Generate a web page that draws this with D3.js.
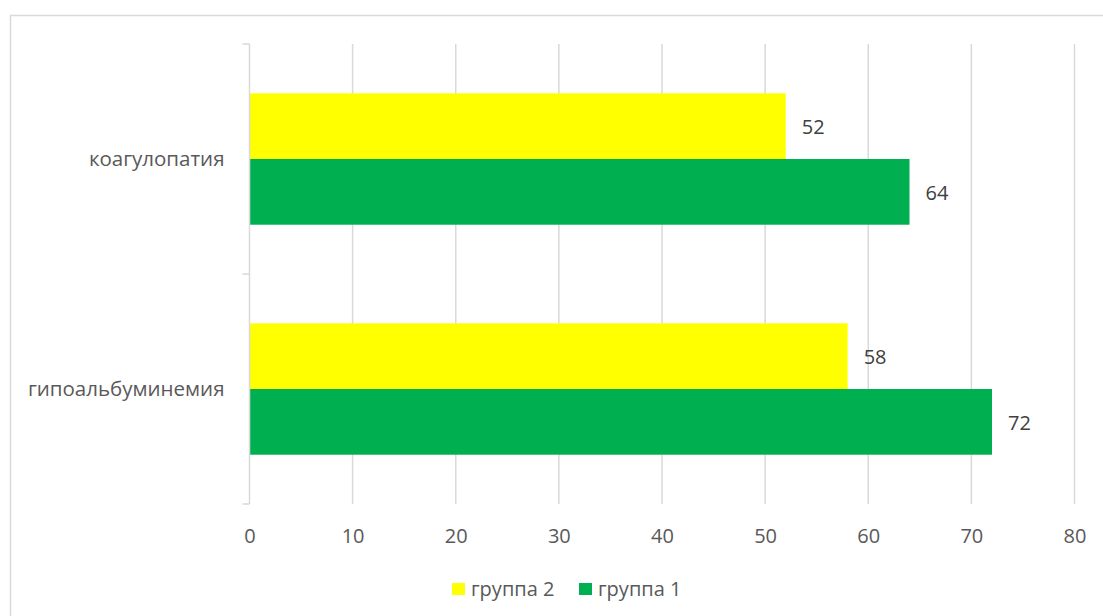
<!DOCTYPE html>
<html>
<head>
<meta charset="utf-8">
<script src="https://cdn.jsdelivr.net/npm/d3@7"></script>
<style>
  html, body { margin: 0; padding: 0; background: #fff; }
  svg { display: block; font-family: "Open Sans", "Noto Sans", sans-serif; }
</style>
</head>
<body>
<svg id="chart" width="1103" height="616"></svg>
<script>
// Categories (top to bottom) and series values
const categories = ["коагулопатия", "гипоальбуминемия"];
const seriesNames = ["группа 2", "группа 1"];
const group2 = [52, 58];
const group1 = [64, 72];
const xTicks = [0, 10, 20, 30, 40, 50, 60, 70, 80];
const seriesColors = ["#FFFF00", "#00B050"];

const seriesValues = [group2, group1];
const rows = categories.map((c, i) => ({
  category: c,
  values: seriesNames.map((s, j) => ({ series: s, value: seriesValues[j][i], color: seriesColors[j] }))
}));

const svg = d3.select("#chart");

// Chart frame
svg.append("rect")
  .attr("x", 10.5).attr("y", 15.5)
  .attr("width", 1200).attr("height", 700)
  .attr("fill", "none").attr("stroke", "#d9d9d9").attr("stroke-width", 1.5);

const plot = { left: 249.5, right: 1074.5, top: 44, bottom: 504 };

const x = d3.scaleLinear().domain([0, 80]).range([plot.left, plot.right]);
const y0 = d3.scaleBand().domain(categories).range([plot.top, plot.bottom]).padding(0);
const y1 = d3.scaleBand().domain(seriesNames).range([0, y0.bandwidth()])
  .paddingInner(0).paddingOuter(0.75);

// Vertical gridlines
svg.append("g").selectAll("line")
  .data(xTicks.filter(t => t > 0))
  .join("line")
  .attr("x1", d => x(d)).attr("x2", d => x(d))
  .attr("y1", plot.top).attr("y2", plot.bottom)
  .attr("stroke", "#d9d9d9").attr("stroke-width", 1.5);

// Value axis tick labels
const xAxis = d3.axisBottom(x).tickValues(xTicks).tickSize(0).tickPadding(0);
const xg = svg.append("g").attr("transform", `translate(0,${plot.bottom})`).call(xAxis);
xg.select(".domain").remove();
xg.selectAll("text")
  .attr("dy", null)
  .attr("y", 39)
  .attr("fill", "#595959")
  .attr("font-size", 20)
  .attr("font-family", "'Open Sans', sans-serif");

// Bars
const groups = svg.append("g").selectAll("g")
  .data(rows)
  .join("g")
  .attr("transform", d => `translate(0,${y0(d.category)})`);

groups.selectAll("rect")
  .data(d => d.values)
  .join("rect")
  .attr("x", x(0))
  .attr("y", d => y1(d.series))
  .attr("width", d => x(d.value) - x(0))
  .attr("height", y1.bandwidth())
  .attr("fill", d => d.color);

// Data labels
groups.selectAll("text.val")
  .data(d => d.values)
  .join("text")
  .attr("class", "val")
  .attr("x", d => x(d.value) + 16)
  .attr("y", d => y1(d.series) + y1.bandwidth() / 2 + 1)
  .attr("dy", "0.35em")
  .attr("fill", "#404040")
  .attr("font-size", 20)
  .text(d => d.value);

// Category axis line with boundary ticks
const yAxis = d3.axisLeft(y0).tickSize(0).tickPadding(25);
const yg = svg.append("g").attr("transform", `translate(${plot.left},0)`).call(yAxis);
yg.select(".domain").remove();
yg.selectAll("text")
  .attr("fill", "#595959")
  .attr("font-size", 20.5)
  .attr("font-family", "'Open Sans', sans-serif");

svg.append("line")
  .attr("x1", plot.left).attr("x2", plot.left)
  .attr("y1", plot.top).attr("y2", plot.bottom)
  .attr("stroke", "#d9d9d9").attr("stroke-width", 1.5);
const boundaries = categories.map(c => y0(c)).concat([y0(categories[categories.length - 1]) + y0.bandwidth()]);
svg.append("g").selectAll("line")
  .data(boundaries)
  .join("line")
  .attr("x1", plot.left - 7).attr("x2", plot.left)
  .attr("y1", d => d).attr("y2", d => d)
  .attr("stroke", "#d9d9d9").attr("stroke-width", 1.5);

// Legend
const legendItems = seriesNames.map((s, i) => ({ name: s, color: seriesColors[i] }));
const legendX = [452, 579];
const legend = svg.append("g").selectAll("g")
  .data(legendItems)
  .join("g")
  .attr("transform", (d, i) => `translate(${legendX[i]},583)`);
legend.append("rect")
  .attr("width", 13).attr("height", 12)
  .attr("fill", d => d.color);
legend.append("text")
  .attr("x", 19).attr("y", 6)
  .attr("dy", "0.35em")
  .attr("fill", "#595959")
  .attr("font-size", 20)
  .text(d => d.name);
</script>
</body>
</html>
